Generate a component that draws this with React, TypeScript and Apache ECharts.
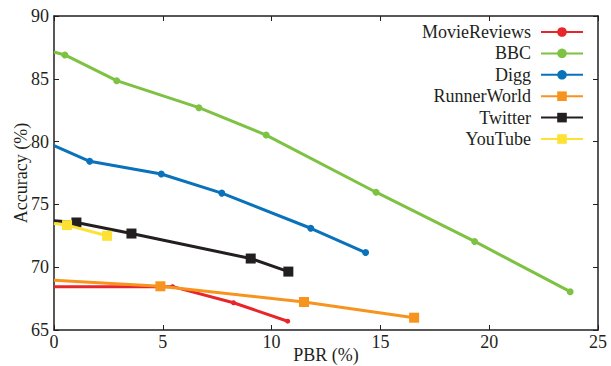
import React, { useEffect, useRef } from "react";
import * as echarts from "echarts";

const seriesNames = ["MovieReviews", "BBC", "Digg", "RunnerWorld", "Twitter", "YouTube"];
const colors = ["#e8262a", "#7dc242", "#0a72ba", "#f7941e", "#231f20", "#fde234"];

const movieReviews: [number, number][] = [[0, 68.45], [5.45, 68.45], [8.25, 67.17], [10.74, 65.7]];
const bbc: [number, number][] = [[0, 87.13], [0.5, 86.9], [2.88, 84.85], [6.66, 82.7], [9.75, 80.52], [14.8, 75.97], [19.33, 72.05], [23.72, 68.05]];
const digg: [number, number][] = [[0, 79.68], [1.64, 78.43], [4.93, 77.42], [7.71, 75.9], [11.8, 73.1], [14.32, 71.17]];
const runnerWorld: [number, number][] = [[0, 68.96], [4.89, 68.48], [11.49, 67.23], [16.55, 65.98]];
const twitter: [number, number][] = [[0, 73.7], [1.03, 73.56], [3.56, 72.68], [9.04, 70.69], [10.77, 69.65]];
const youTube: [number, number][] = [[0, 73.48], [0.6, 73.35], [2.44, 72.5]];

const allData = [movieReviews, bbc, digg, runnerWorld, twitter, youTube];
const symbols = ["circle", "circle", "circle", "rect", "rect", "rect"];
const symbolSizes = [5, 7, 7, 10, 10, 10];

const font = "Liberation Serif";
const textColor = "#231f20";

export default function App() {
  const ref = useRef<HTMLDivElement>(null);
  useEffect(() => {
    document.body.style.margin = "0";
    const chart = echarts.init(ref.current!, null, { renderer: "svg" });
    const axisCommon = {
      axisLine: { show: true, onZero: false, lineStyle: { color: textColor, width: 1.5 } },
      axisTick: { show: true, inside: true, length: 5, lineStyle: { color: textColor, width: 1 } },
      splitLine: { show: false },
    };
    chart.setOption({
      animation: false,
      backgroundColor: "#fff",
      textStyle: { fontFamily: font },
      grid: { left: 54, right: 13, top: 16, bottom: 36, containLabel: false, outerBoundsMode: "none" },
      legend: {
        orient: "vertical",
        right: 22,
        top: 18,
        align: "right",
        itemWidth: 42,
        itemHeight: 12,
        itemGap: 3.4,
        textStyle: { fontFamily: font, fontSize: 18, color: textColor, padding: [0, 5, 0, 0] },
        data: seriesNames,
      },
      xAxis: [
        {
          type: "value", min: 0, max: 25, interval: 5, position: "bottom",
          name: "PBR (%)", nameLocation: "middle", nameGap: 16, nameMoveOverlap: false,
          nameTextStyle: { fontFamily: font, fontSize: 18, color: textColor },
          axisLabel: { fontFamily: font, fontSize: 18, color: textColor, margin: 3 },
          ...axisCommon,
        },
        {
          type: "value", min: 0, max: 25, interval: 5, position: "top",
          axisLabel: { show: false },
          ...axisCommon,
        },
      ],
      yAxis: [
        {
          type: "value", min: 65, max: 90, interval: 5, position: "left",
          name: "Accuracy (%)", nameLocation: "middle", nameGap: 24, nameMoveOverlap: false,
          nameTextStyle: { fontFamily: font, fontSize: 18, color: textColor },
          axisLabel: { fontFamily: font, fontSize: 18, color: textColor, margin: 5 },
          ...axisCommon,
        },
        {
          type: "value", min: 65, max: 90, interval: 5, position: "right",
          axisLabel: { show: false },
          ...axisCommon,
        },
      ],
      series: seriesNames.map((name, i) => ({
        name,
        type: "line",
        data: allData[i].map((p, j) => ({
          value: p,
          symbol: j === 0 ? "none" : symbols[i],
        })),
        symbol: symbols[i],
        symbolSize: symbolSizes[i],
        showSymbol: true,
        lineStyle: { width: 3, color: colors[i] },
        itemStyle: { color: colors[i] },
        z: 2 + i,
      })),
    });
    return () => chart.dispose();
  }, []);
  return <div ref={ref} style={{ width: 611, height: 366 }} />;
}
